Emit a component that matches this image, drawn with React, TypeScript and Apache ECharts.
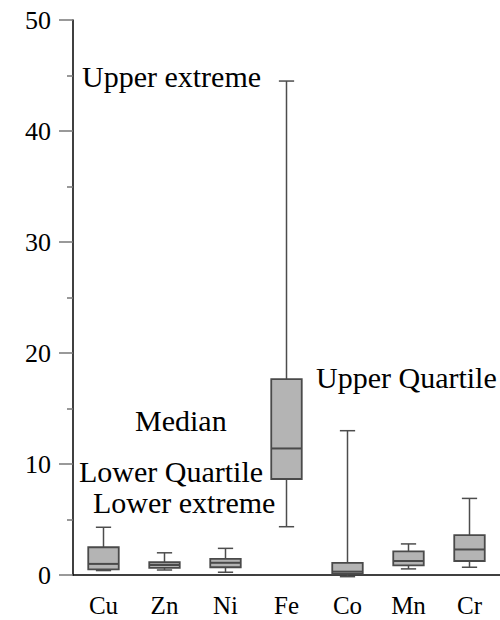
import React, { useEffect, useRef } from "react";
import * as echarts from "echarts";

const categories = ["Cu", "Zn", "Ni", "Fe", "Co", "Mn", "Cr"];
const lowerExtreme = [0.4, 0.45, 0.25, 4.35, -0.15, 0.55, 0.7];
const lowerQuartile = [0.5, 0.65, 0.7, 8.65, 0.1, 0.87, 1.26];
const medianValues = [1.0, 0.9, 1.1, 11.4, 0.3, 1.26, 2.3];
const upperQuartile = [2.5, 1.15, 1.45, 17.65, 1.1, 2.13, 3.6];
const upperExtreme = [4.3, 2.0, 2.4, 44.5, 13.0, 2.8, 6.9];

const annotations = [
  { text: "Upper extreme", x: 82, y: 76 },
  { text: "Upper Quartile", x: 316, y: 377 },
  { text: "Median", x: 135, y: 420 },
  { text: "Lower Quartile", x: 79, y: 471 },
  { text: "Lower extreme", x: 93, y: 502 },
];

const FONT = "Liberation Serif";

export default function App() {
  const ref = useRef<HTMLDivElement>(null);
  useEffect(() => {
    if (!ref.current) return;
    const chart = echarts.init(ref.current, null, { renderer: "svg" });
    const data = categories.map((c, i) => [
      i,
      lowerExtreme[i],
      lowerQuartile[i],
      medianValues[i],
      upperQuartile[i],
      upperExtreme[i],
    ]);
    chart.setOption({
      animation: false,
      backgroundColor: "#ffffff",
      textStyle: { fontFamily: FONT },
      grid: { left: 73, right: 0, top: 20, bottom: 45, containLabel: false },
      xAxis: {
        type: "category",
        data: categories,
        boundaryGap: true,
        axisLine: { lineStyle: { color: "#000", width: 1.5 } },
        axisTick: {
          alignWithLabel: true,
          length: 15,
          lineStyle: { color: "#666", width: 1.5 },
        },
        axisLabel: {
          color: "#000",
          fontFamily: FONT,
          fontSize: 25,
          margin: 18,
        },
        splitLine: { show: false },
      },
      yAxis: {
        type: "value",
        min: 0,
        max: 50,
        interval: 10,
        axisLine: { show: true, lineStyle: { color: "#000", width: 1.5 } },
        axisTick: {
          show: true,
          length: 14,
          lineStyle: { color: "#777", width: 1.5 },
        },
        minorTick: {
          show: true,
          splitNumber: 2,
          length: 6,
          lineStyle: { color: "#777", width: 1.5 },
        },
        axisLabel: {
          color: "#000",
          fontFamily: FONT,
          fontSize: 26,
          margin: 22,
        },
        splitLine: { show: false },
        minorSplitLine: { show: false },
      },
      series: [
        {
          type: "custom",
          clip: false,
          data,
          encode: { x: 0, y: [1, 2, 3, 4, 5] },
          renderItem: (params: any, api: any) => {
            const idx = api.value(0);
            const band = api.size([1, 0])[0];
            const boxW = band * 0.5;
            const capW = boxW * 0.5;
            const pLow = api.coord([idx, api.value(1)]);
            const pQ1 = api.coord([idx, api.value(2)]);
            const pMed = api.coord([idx, api.value(3)]);
            const pQ3 = api.coord([idx, api.value(4)]);
            const pHigh = api.coord([idx, api.value(5)]);
            const cx = pMed[0];
            const lineStyle = { stroke: "#4d4d4d", lineWidth: 1.5 };
            return {
              type: "group",
              children: [
                { type: "line", shape: { x1: cx, y1: pHigh[1], x2: cx, y2: pQ3[1] }, style: lineStyle },
                { type: "line", shape: { x1: cx, y1: pQ1[1], x2: cx, y2: pLow[1] }, style: lineStyle },
                { type: "line", shape: { x1: cx - capW / 2, y1: pHigh[1], x2: cx + capW / 2, y2: pHigh[1] }, style: lineStyle },
                { type: "line", shape: { x1: cx - capW / 2, y1: pLow[1], x2: cx + capW / 2, y2: pLow[1] }, style: lineStyle },
                {
                  type: "rect",
                  shape: { x: cx - boxW / 2, y: pQ3[1], width: boxW, height: pQ1[1] - pQ3[1] },
                  style: { fill: "#b4b4b4", stroke: "#4a4a4a", lineWidth: 1.8 },
                },
                {
                  type: "line",
                  shape: { x1: cx - boxW / 2, y1: pMed[1], x2: cx + boxW / 2, y2: pMed[1] },
                  style: { stroke: "#4a4a4a", lineWidth: 2 },
                },
              ],
            };
          },
        },
      ],
      graphic: annotations.map((a) => ({
        type: "text",
        x: a.x,
        y: a.y,
        style: {
          text: a.text,
          fill: "#000",
          fontFamily: FONT,
          fontSize: 30,
          verticalAlign: "middle",
        },
      })),
    });
    return () => chart.dispose();
  }, []);
  return (
    <div
      ref={ref}
      style={{ position: "fixed", left: 0, top: 0, width: 500, height: 620 }}
    />
  );
}
